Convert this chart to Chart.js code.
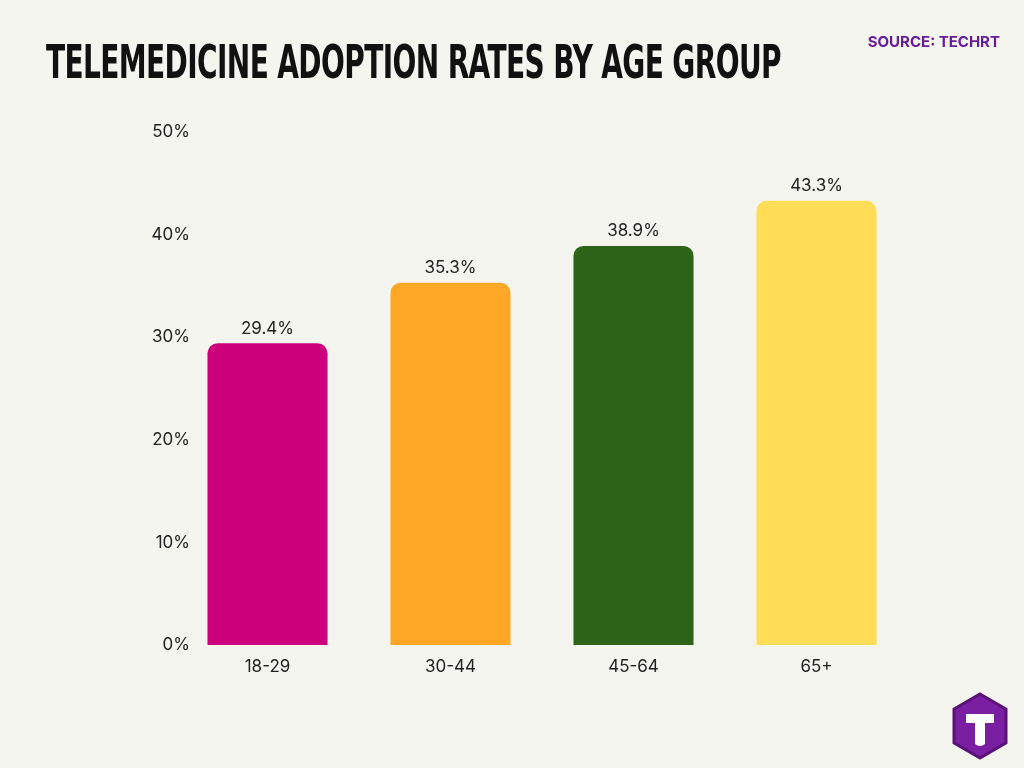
<!DOCTYPE html>
<html><head><meta charset="utf-8">
<script src="https://cdn.jsdelivr.net/npm/chart.js@4"></script>
<style>
html,body{margin:0;padding:0;background:#f5f5f0;width:1024px;height:768px;overflow:hidden}
#title{position:absolute;left:46px;top:35px;font-family:"DejaVu Sans","Liberation Sans",sans-serif;font-weight:bold;font-size:46px;color:#111;transform-origin:left top;white-space:nowrap;letter-spacing:-1px}
#src{position:absolute;right:24px;top:32px;font-family:Inter,sans-serif;font-weight:700;font-size:15px;color:#6a1b9a}
#wrap{position:absolute;left:0;top:0;width:1024px;height:768px}
#logo{position:absolute;left:950px;top:692px}
</style></head><body>
<div id="wrap"><canvas id="c" width="1024" height="768"></canvas></div>
<div id="title">TELEMEDICINE ADOPTION RATES BY AGE GROUP</div>
<div id="src">SOURCE: TECHRT</div>
<svg id="logo" width="60" height="70" viewBox="0 0 60 70">
<polygon points="30,2 56,17 56,51 30,66 4,51 4,17" fill="#7b1fa2" stroke="#5a1178" stroke-width="3"/>
<path d="M16 22 H44 V31 H35 V52 Q30 56 25 52 V31 H16 Z" fill="#fff"/>
</svg>
<script>
const t=document.getElementById('title');t.style.transform='scaleX('+(735/t.offsetWidth)+')';
const categories = ["18-29","30-44","45-64","65+"];
const values = [29.4,35.3,38.9,43.3];
const colors = ["#cc007a","#ffa726","#2e6418","#ffdd57"];
const yTicks = [0,10,20,30,40,50];
const labelPlugin = {id:'lbl',afterDraw(ch){const ctx=ch.ctx;const m=ch.getDatasetMeta(0);ctx.save();ctx.font='17px Inter, sans-serif';ctx.fillStyle='#222';ctx.textAlign='center';ctx.textBaseline='bottom';m.data.forEach((b,i)=>{ctx.fillText(values[i].toFixed(1)+'%',b.x,b.y-6);});
const y=ch.scales.y;ctx.textAlign='right';ctx.textBaseline='middle';yTicks.forEach(v=>ctx.fillText(v+'%',190,y.getPixelForValue(v)));ctx.restore();}};
new Chart(document.getElementById('c'),{type:'bar',
data:{labels:categories,datasets:[{data:values,backgroundColor:colors,borderRadius:{topLeft:10,topRight:10},borderSkipped:'bottom',barPercentage:0.656,categoryPercentage:1}]},
options:{responsive:false,animation:false,devicePixelRatio:1,
layout:{padding:{top:132,right:116,left:0,bottom:0}},
plugins:{legend:{display:false},tooltip:{enabled:false}},
scales:{
x:{grid:{display:false},border:{display:false},ticks:{color:'#222',font:{family:'Inter',size:17},padding:4},afterFit(s){s.height=123;}},
y:{min:0,max:50,grid:{display:false},border:{display:false},afterFit(s){s.width=176;},
ticks:{stepSize:10,display:false}}}},
plugins:[labelPlugin]});
</script></body></html>
